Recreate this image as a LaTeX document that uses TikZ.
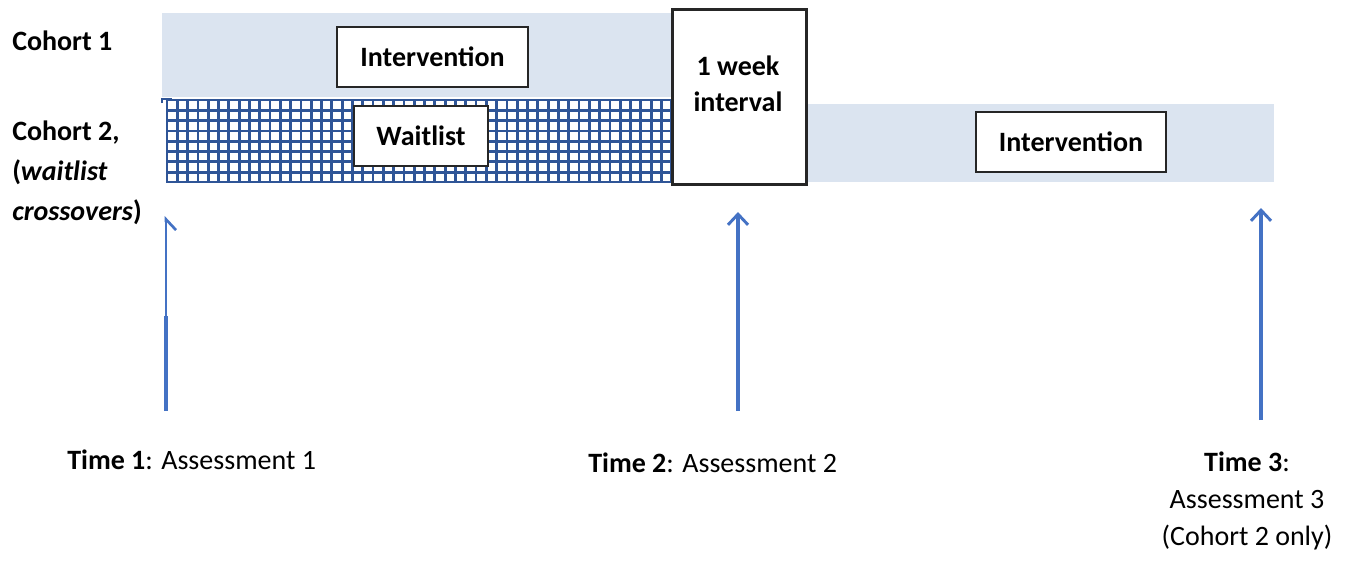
\documentclass[tikz,border=0pt]{standalone}
\usepackage{fontspec}
\setmainfont{Carlito}
\usetikzlibrary{arrows.meta}
\definecolor{bandblue}{RGB}{219,228,240}
\definecolor{gridblue}{RGB}{47,85,151}
\definecolor{arrowblue}{RGB}{68,114,196}
\tikzset{
  band/.style={fill=bandblue, draw=none},
  labelbox/.style={draw=black!85, line width=1.3pt, fill=white, inner sep=0pt, font=\fontsize{21}{25}\selectfont\bfseries},
  sidelabel/.style={anchor=west, font=\fontsize{21}{25}\selectfont\bfseries, inner sep=0pt},
  timelabel/.style={font=\fontsize{21}{25}\selectfont, inner sep=0pt},
  uparrow/.style={draw=arrowblue, line width=2.7pt, -{Straight Barb[length=8pt, width=15pt, line width=2.2pt]}},
}
\begin{document}
\begin{tikzpicture}[x=0.75pt, y=-0.75pt]
\useasboundingbox (0,0) rectangle (1352,562);
% bands
\fill[band] (162,13) rectangle (672,97);
\fill[band] (805,104) rectangle (1274,182);
% hatched cohort 2 waitlist band
\begin{scope}
\clip (166,99) rectangle (671,182.5);
\foreach \i in {0,...,49} {
  \draw[gridblue, line width=2.1pt] (166+\i*10.3+1,99) -- (166+\i*10.3+1,183);
}
\foreach \j in {0,...,8} {
  \draw[gridblue, line width=2.1pt] (166,100+\j*10.3) -- (671,100+\j*10.3);
}
\end{scope}
\draw[gridblue, line width=1pt] (162,103) -- (162,99) -- (172,99);
% boxes
\node[labelbox, minimum width=191*0.75pt, minimum height=60*0.75pt] (int1) at (432.5,57) {Intervention};
\node[labelbox, minimum width=134*0.75pt, minimum height=60*0.75pt] (wait) at (421,136) {Waitlist};
\node[labelbox, line width=2.2pt, minimum width=134*0.75pt, minimum height=175*0.75pt, anchor=north west] (week) at (671,8) {};
\node[font=\fontsize{21}{25}\selectfont\bfseries, align=center, inner sep=0pt] (weektext) at (738,84) {1 week\\[2pt]interval};
\node[labelbox, minimum width=190*0.75pt, minimum height=60*0.75pt] (int2) at (1071,142) {Intervention};
% side labels
\node[sidelabel] (c1) at (12,41) {Cohort 1};
\node[sidelabel] (c2) at (12,133) {Cohort 2,};
\node[sidelabel] (c2b) at (12,172) {(\textit{waitlist}};
\node[sidelabel] (c2c) at (12,212) {\textit{crossovers})};
% arrows
\coordinate (a1b) at (166,411);
\coordinate (a1m) at (166,316);
\coordinate (a1t) at (166,216);
\draw[draw=arrowblue, line width=2.7pt] (a1b) -- (a1m);
\draw[draw=arrowblue, line width=1.2pt, -{Straight Barb[right, length=8pt, width=15pt, line width=2pt]}] (a1m) -- (a1t);
\coordinate (a2b) at (738,411);
\coordinate (a2t) at (738,212);
\draw[uparrow] (a2b) -- (a2t);
\coordinate (a3b) at (1261,420);
\coordinate (a3t) at (1261,208);
\draw[uparrow] (a3b) -- (a3t);
% time labels
\node[timelabel, anchor=west] (t1) at (67,460) {\textbf{Time 1}: Assessment 1};
\node[timelabel, anchor=west] (t2) at (588,463) {\textbf{Time 2}: Assessment 2};
\node[timelabel, align=center] (t3) at (1247,501) {\textbf{Time 3}:\\[3pt]Assessment 3\\[3pt](Cohort 2 only)};
\end{tikzpicture}
\end{document}
